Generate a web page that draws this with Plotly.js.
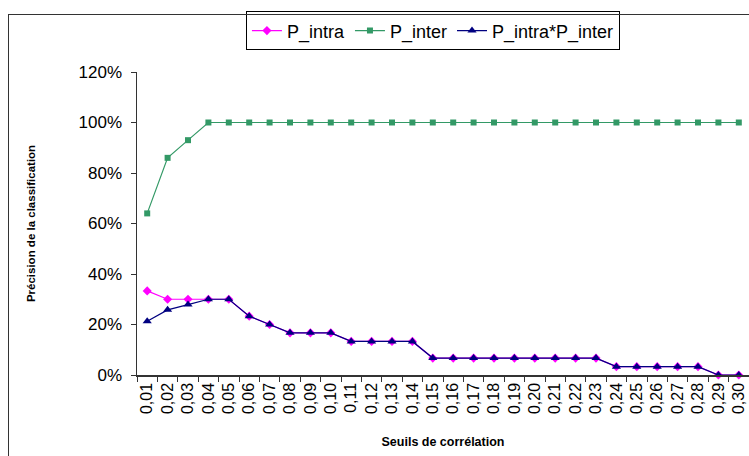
<!DOCTYPE html>
<html>
<head>
<meta charset="utf-8">
<script src="https://cdn.plot.ly/plotly-3.0.1.min.js"></script>
<style>
html,body{margin:0;padding:0;background:#fff;}
#wrap{position:relative;width:749px;height:456px;overflow:hidden;}
#chart{position:absolute;left:0;top:0;width:749px;height:456px;}
#frame{position:absolute;left:8px;top:14px;width:2000px;height:2000px;border-left:1.5px solid #333;border-top:1.5px solid #333;pointer-events:none;}
</style>
</head>
<body>
<div id="wrap"><div id="chart"></div><div id="frame"></div></div>
<script>
const categories = ["0,01","0,02","0,03","0,04","0,05","0,06","0,07","0,08","0,09","0,10",
  "0,11","0,12","0,13","0,14","0,15","0,16","0,17","0,18","0,19","0,20",
  "0,21","0,22","0,23","0,24","0,25","0,26","0,27","0,28","0,29","0,30"];
const pIntra = [0.333,0.30,0.30,0.30,0.30,0.233,0.20,0.167,0.167,0.167,
  0.133,0.133,0.133,0.133,0.067,0.067,0.067,0.067,0.067,0.067,
  0.067,0.067,0.067,0.033,0.033,0.033,0.033,0.033,0.0,0.0];
const pInter = [0.64,0.86,0.93,1.0,1.0,1.0,1.0,1.0,1.0,1.0,
  1.0,1.0,1.0,1.0,1.0,1.0,1.0,1.0,1.0,1.0,
  1.0,1.0,1.0,1.0,1.0,1.0,1.0,1.0,1.0,1.0];
const pProduct = [0.213,0.258,0.279,0.30,0.30,0.233,0.20,0.167,0.167,0.167,
  0.133,0.133,0.133,0.133,0.067,0.067,0.067,0.067,0.067,0.067,
  0.067,0.067,0.067,0.033,0.033,0.033,0.033,0.033,0.0,0.0];
const yTicks = [0,0.2,0.4,0.6,0.8,1.0,1.2];

const font = "Arial, 'Liberation Sans', sans-serif";
const traces = [
  {x: categories, y: pIntra, name: "P_intra", type: "scatter", mode: "lines+markers",
   line: {color: "#FF00FF", width: 1.2}, marker: {symbol: "diamond", size: 7, color: "#FF00FF"}, cliponaxis: false},
  {x: categories, y: pInter, name: "P_inter", type: "scatter", mode: "lines+markers",
   line: {color: "#339966", width: 1.2}, marker: {symbol: "square", size: 6, color: "#339966"}, cliponaxis: false},
  {x: categories, y: pProduct, name: "P_intra*P_inter", type: "scatter", mode: "lines+markers",
   line: {color: "#000080", width: 1.2}, marker: {symbol: "triangle-up", size: 8, color: "#000080"}, cliponaxis: false}
];
const layout = {
  width: 749, height: 456,
  margin: {l: 137, r: 0, t: 72, b: 81, pad: 0},
  paper_bgcolor: "#fff", plot_bgcolor: "#fff",
  font: {family: font, color: "#000"},
  showlegend: true,
  legend: {orientation: "h", x: 0.178, xanchor: "left", y: 1.2, yanchor: "top",
    bordercolor: "#000", borderwidth: 1, bgcolor: "#fff",
    font: {size: 18, family: font}, itemwidth: 30, tracegroupgap: 0},
  xaxis: {type: "category", range: [-0.5, 29.5], autorange: false, tickson: "boundaries", ticks: "outside", ticklen: 5, tickcolor: "#333",
    tickangle: -90, tickfont: {size: 16, family: font}, showline: true, linecolor: "#333", linewidth: 1.5,
    showgrid: false, zeroline: false, automargin: false,
    title: {text: "Seuils de corrélation", font: {size: 12.5, family: font, weight: "bold"}, standoff: 24}},
  yaxis: {range: [0, 1.2], autorange: false, tickvals: yTicks, tickformat: ".0%", ticks: "outside", ticklen: 5, tickcolor: "#333",
    ticklabelstandoff: 5,
    tickfont: {size: 17, family: font}, showline: true, linecolor: "#333", linewidth: 1.5,
    showgrid: false, zeroline: false, automargin: false,
    title: {text: "Précision de la classification", font: {size: 11.5, family: font, weight: "bold"}, standoff: 40}}
};
Plotly.newPlot("chart", traces, layout, {displayModeBar: false, staticPlot: true});
</script>
</body>
</html>
